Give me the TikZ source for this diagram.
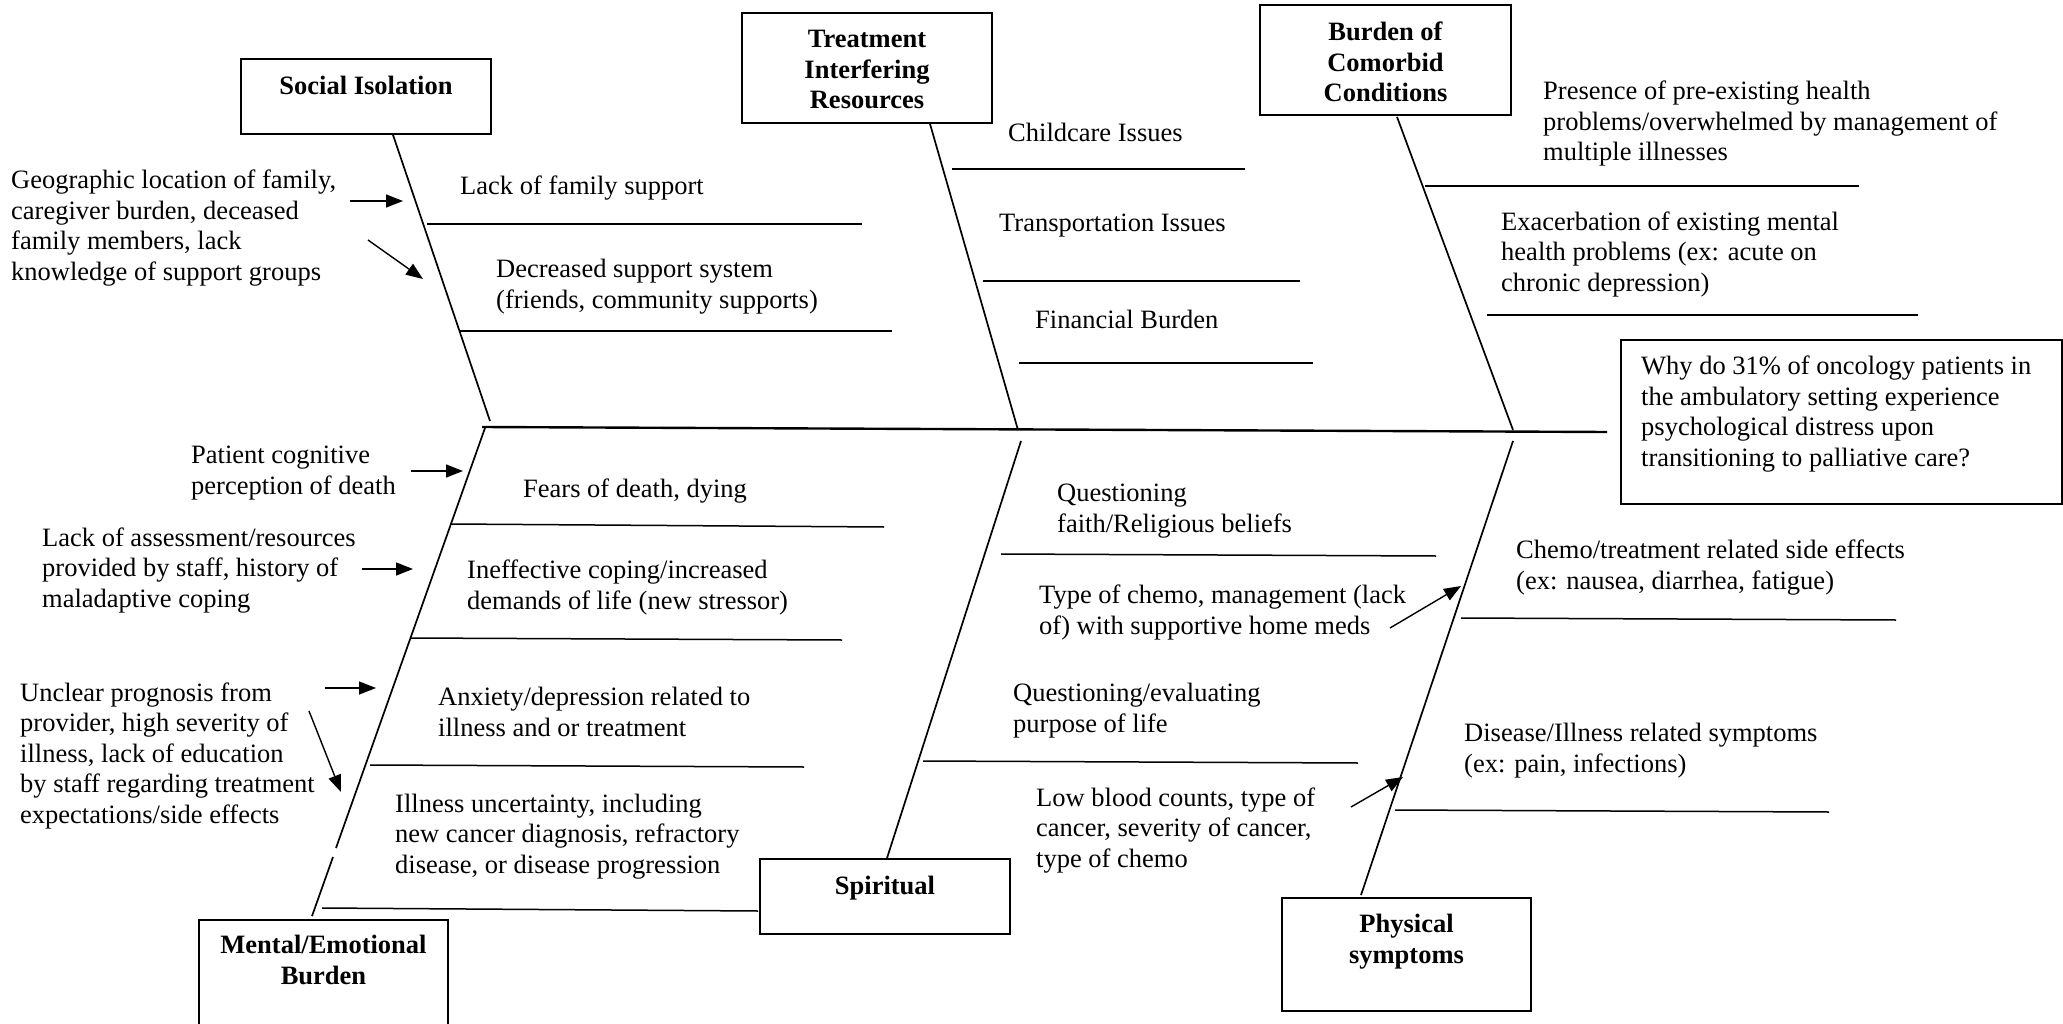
\documentclass[tikz,border=0pt]{standalone}
\usepackage{fontspec}
\setmainfont{Liberation Serif}
\usetikzlibrary{arrows.meta,calc}
\newcommand\fs{\fontsize{26.5}{30.5}\selectfont}
\tikzset{
  txt/.style={anchor=base west, inner sep=0pt, align=left, font=\fs},
  hdr/.style={anchor=base, inner sep=0pt, align=center, font=\fs\bfseries},
  box/.style={draw, line width=1.8pt, inner sep=0pt},
  bone/.style={line width=1.7pt},
  spine/.style={line width=2.4pt},
  rib/.style={line width=1.5pt},
  arr/.style={line width=1.4pt, -{Triangle[length=17pt,width=13pt]}}
}
\begin{document}
\begin{tikzpicture}[x=1pt,y=-1pt]
\useasboundingbox (0,0) rectangle (2063,1024);
\clip (0,0) rectangle (2063,1024);

% (for multi-line texts the base anchor is the baseline of the last line)
% ---------- boxes ----------
\node[box, minimum width=250pt, minimum height=75pt] (soc) at (366,96.5) {};
\node[hdr] (socT) at (366,95) {Social Isolation};
\node[box, minimum width=250pt, minimum height=110pt] (trt) at (867,68) {};
\node[hdr] (trtT) at (867,109) {Treatment\\Interfering\\Resources};
\node[box, minimum width=251pt, minimum height=110pt] (bur) at (1385.5,60) {};
\node[hdr] (burT) at (1385.5,102) {Burden of\\Comorbid\\Conditions};
\node[box, minimum width=441pt, minimum height=164pt] (q) at (1841.5,422) {};
\node[txt] (qT) at (1641,466) {Why do 31\% of oncology patients in\\the ambulatory setting experience\\psychological distress upon\\transitioning to palliative care?};
\node[box, minimum width=249pt, minimum height=140pt] (men) at (323.5,990) {};
\node[hdr] (menT) at (323.5,984) {Mental/Emotional\\Burden};
\node[box, minimum width=250pt, minimum height=75pt] (spi) at (885,896.5) {};
\node[hdr] (spiT) at (885,894) {Spiritual};
\node[box, minimum width=249pt, minimum height=113pt] (phy) at (1406.5,954.5) {};
\node[hdr] (phyT) at (1406.5,963) {Physical\\symptoms};

% ---------- spine ----------
\coordinate (spL) at (482,427);
\coordinate (spR) at (1607,432);
\draw[spine] (spL) -- (spR);

% ---------- bones ----------
\coordinate (socE) at (490,421);
\draw[bone] ($(soc.south)+(27,0)$) -- (socE);
\coordinate (trtE) at (1018,430);
\draw[bone] ($(trt.south)+(63,0)$) -- (trtE);
\coordinate (burE) at (1513,430);
\draw[bone] ($(bur.south)+(11.5,1)$) -- (burE);
\coordinate (menS) at (485,428);
\coordinate (menG1) at (336,848);
\coordinate (menG2) at (333,857);
\draw[bone] (menS) -- (menG1);
\draw[bone] (menG2) -- ($(men.north)+(-11.5,-3)$);
\coordinate (spiS) at (1021,441);
\draw[bone] (spiS) -- ($(spi.north)+(2,0)$);
\coordinate (phyS) at (1513,441);
\draw[bone] (phyS) -- ($(phy.north)+(-45.5,-2)$);

% ---------- ribs ----------
\draw[rib] (427,224) -- (862,224);
\draw[rib] (460,331) -- (892,331);
\draw[rib] (952,169) -- (1245,169);
\draw[rib] (983,281) -- (1300,281);
\draw[rib] (1019,363) -- (1313,363);
\draw[rib] (1425,186) -- (1859,186);
\draw[rib] (1487,315) -- (1918,315);
\draw[rib] (451,524) -- (884,527);
\draw[rib] (410,638) -- (842,640);
\draw[rib] (370,765) -- (804,767);
\draw[rib] (322,908) -- (758,911);
\draw[rib] (1001,554) -- (1436,556);
\draw[rib] (923,761) -- (1358,763);
\draw[rib] (1461,618) -- (1896,620);
\draw[rib] (1395,810) -- (1829,812);

% ---------- rib labels ----------
\node[txt] (t1) at (460,195) {Lack of family support};
\node[txt] (t2) at (496,308) {Decreased support system\\(friends, community supports)};
\node[txt] (t3) at (1008,142) {Childcare Issues};
\node[txt] (t4) at (999,232) {Transportation Issues};
\node[txt] (t5) at (1035,328) {Financial Burden};
\node[txt] (t6) at (1543,161) {Presence of pre-existing health\\problems/overwhelmed by management of\\multiple illnesses};
\node[txt] (t7) at (1501,291) {Exacerbation of existing mental\\health problems (ex: acute on\\chronic depression)};
\node[txt] (t8) at (523,497) {Fears of death, dying};
\node[txt] (t9) at (467,609) {Ineffective coping/increased\\demands of life (new stressor)};
\node[txt] (t10) at (438,736) {Anxiety/depression related to\\illness and or treatment};
\node[txt] (t11) at (395,873) {Illness uncertainty, including\\new cancer diagnosis, refractory\\disease, or disease progression};
\node[txt] (t12) at (1057,532) {Questioning\\faith/Religious beliefs};
\node[txt] (t13) at (1039,634) {Type of chemo, management (lack\\of) with supportive home meds};
\node[txt] (t14) at (1013,732) {Questioning/evaluating\\purpose of life};
\node[txt] (t15) at (1036,867) {Low blood counts, type of\\cancer, severity of cancer,\\type of chemo};
\node[txt] (t16) at (1516,589) {Chemo/treatment related side effects\\(ex: nausea, diarrhea, fatigue)};
\node[txt] (t17) at (1464,772) {Disease/Illness related symptoms\\(ex: pain, infections)};

% ---------- side notes ----------
\node[txt] (n1) at (11,280) {Geographic location of family,\\caregiver burden, deceased\\family members, lack\\knowledge of support groups};
\node[txt] (n2) at (191,494) {Patient cognitive\\perception of death};
\node[txt] (n3) at (42,607) {Lack of assessment/resources\\provided by staff, history of\\maladaptive coping};
\node[txt] (n4) at (20,823) {Unclear prognosis from\\provider, high severity of\\illness, lack of education\\by staff regarding treatment\\expectations/side effects};

% ---------- arrows ----------
\coordinate (a1s) at (350,201); \coordinate (a1e) at (403,201);
\coordinate (a2s) at (368,240); \coordinate (a2e) at (423,279);
\coordinate (a3s) at (411,471); \coordinate (a3e) at (463,471);
\coordinate (a4s) at (362,569); \coordinate (a4e) at (413,569);
\coordinate (a5s) at (325,688); \coordinate (a5e) at (376,688);
\coordinate (a6s) at (309,711); \coordinate (a6e) at (341,792);
\coordinate (a7s) at (1390,628); \coordinate (a7e) at (1461,586);
\coordinate (a8s) at (1351,807); \coordinate (a8e) at (1403,777);
\draw[arr] (a1s) -- (a1e);
\draw[arr] (a2s) -- (a2e);
\draw[arr] (a3s) -- (a3e);
\draw[arr] (a4s) -- (a4e);
\draw[arr] (a5s) -- (a5e);
\draw[arr] (a6s) -- (a6e);
\draw[arr] (a7s) -- (a7e);
\draw[arr] (a8s) -- (a8e);
\end{tikzpicture}
\end{document}
